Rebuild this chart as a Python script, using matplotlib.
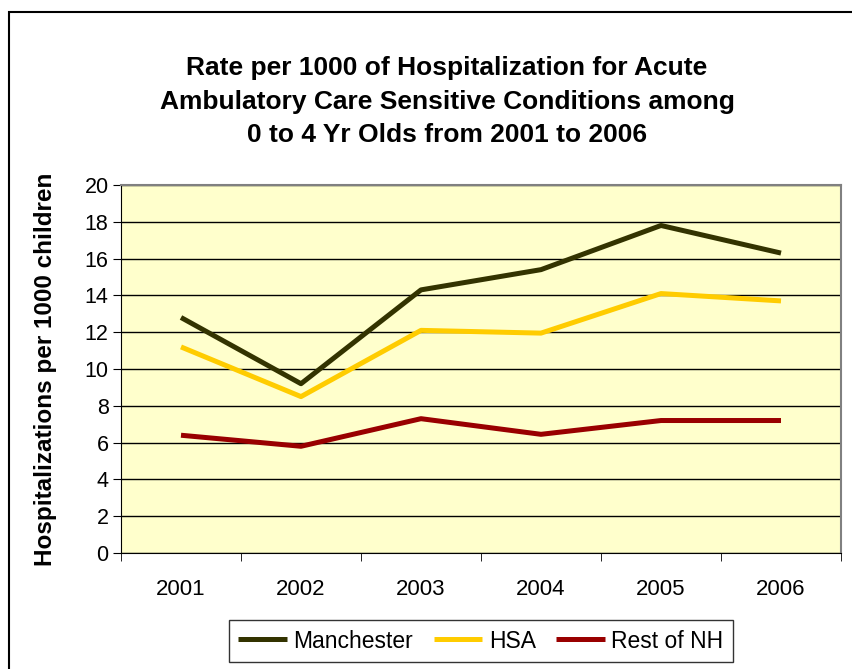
import matplotlib
matplotlib.use("Agg")
import matplotlib.pyplot as plt
from matplotlib.patches import Rectangle

# ── Data ─────────────────────────────────────────────────────────────────────
years = ["2001", "2002", "2003", "2004", "2005", "2006"]
manchester = [12.8, 9.2, 14.3, 15.4, 17.8, 16.3]
hsa = [11.2, 8.5, 12.1, 11.95, 14.1, 13.7]
rest_of_nh = [6.4, 5.8, 7.3, 6.45, 7.2, 7.2]

series = [
    ("Manchester", manchester, "#333300"),
    ("HSA", hsa, "#FFCC00"),
    ("Rest of NH", rest_of_nh, "#990000"),
]

title_lines = [
    "Rate per 1000 of Hospitalization for Acute",
    "Ambulatory Care Sensitive Conditions among",
    "0 to 4 Yr Olds from 2001 to 2006",
]

plt.rcParams["font.family"] = ["Liberation Sans", "DejaVu Sans"]

W, H = 853, 669
fig = plt.figure(figsize=(W / 100, H / 100), dpi=100)

# outer chart frame (left/top visible, rest runs off the image)
fig.patches.append(Rectangle((9 / W, -0.1), 1.2, (H - 12) / H + 0.1,
                             transform=fig.transFigure, fill=False,
                             edgecolor="black", linewidth=1.5))

left, right, top, bottom = 121, 841, 185, 553
ax = fig.add_axes([left / W, (H - bottom) / H, (right - left) / W, (bottom - top) / H])
ax.set_facecolor("#FFFFCC")

x = list(range(len(years)))
for name, vals, color in series:
    ax.plot(x, vals, color=color, linewidth=3.6, label=name, solid_capstyle="butt")

ax.set_xlim(-0.5, len(years) - 0.5)
ax.set_ylim(0, 20)
ax.set_yticks(range(0, 21, 2))
ax.set_xticks(x)
ax.set_xticklabels(years)
ax.set_xticks([i - 0.5 for i in range(len(years) + 1)], minor=True)
ax.tick_params(axis="x", which="major", length=0, pad=19, labelsize=16)
ax.tick_params(axis="x", which="minor", length=6, color="black")
ax.tick_params(axis="y", length=6, direction="out", labelsize=15.5, pad=3)
ax.grid(axis="y", color="black", linewidth=1)
ax.set_axisbelow(True)

for side in ["top", "right"]:
    ax.spines[side].set_color("#808080")
    ax.spines[side].set_linewidth(1.5)
ax.spines["left"].set_color("black")
ax.spines["bottom"].set_color("black")

fig.text(46 / W, 1 - 369 / H, "Hospitalizations per 1000 children",
         rotation=90, ha="center", va="center", fontsize=17.5, fontweight="bold")

for line, base_y in zip(title_lines, [75, 109, 142]):
    fig.text(447 / W, 1 - base_y / H, line, ha="center", va="baseline",
             fontsize=19, fontweight="bold")

leg = fig.legend(loc="center", bbox_to_anchor=(481 / W, 1 - 641 / H), ncol=3,
                 frameon=True, fancybox=False, fontsize=16.5, handlelength=2.1,
                 columnspacing=0.9, handletextpad=0.3, borderpad=0.42,
                 borderaxespad=0)
leg.get_frame().set_edgecolor("black")
leg.get_frame().set_linewidth(1)

fig.savefig("out.png", dpi=100)
